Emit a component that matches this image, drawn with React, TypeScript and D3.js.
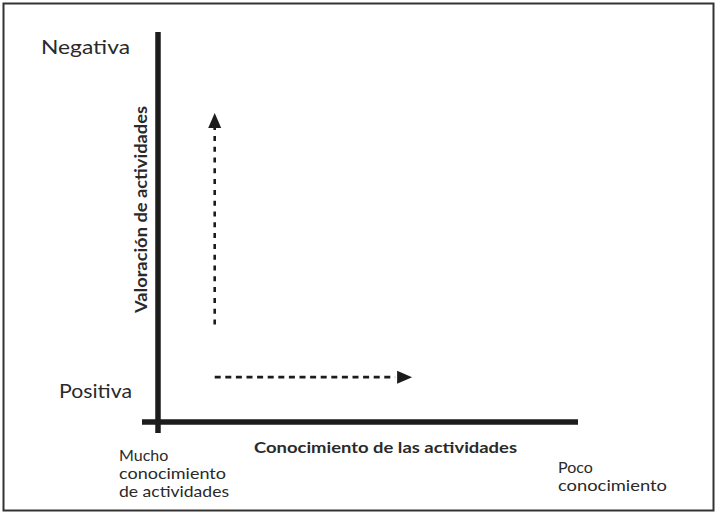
import React from "react";
import * as d3 from "d3";

// Conceptual axes (0 = start, 1 = end)
const xDomain = [0, 1]; // Mucho conocimiento -> Poco conocimiento
const yDomain = [0, 1]; // Positiva -> Negativa

const xAxisTitle = "Conocimiento de las actividades";
const yAxisTitle = "Valoración de actividades";
const yEndLabels = ["Positiva", "Negativa"];
const xStartLabel = ["Mucho", "conocimiento", "de actividades"];
const xEndLabel = ["Poco", "conocimiento"];

// Arrow segments in data units: [x0, y0, x1, y1]
const upArrow = [0.135, 0.25, 0.135, 0.792];
const rightArrow = [0.135, 0.115, 0.605, 0.115];

const W = 716;
const H = 513;

export default function App() {
  const x = d3.scaleLinear().domain(xDomain).range([158, 578]);
  const y = d3.scaleLinear().domain(yDomain).range([422, 32]);

  const ink = "#1c1c1c";
  const textCol = "#2a2a2a";
  const font = "Lato, 'Open Sans', sans-serif";

  const ux = x(upArrow[0]);
  const uy0 = y(upArrow[1]);
  const uy1 = y(upArrow[3]);
  const headLen = 15;
  const headHalf = 6.5;
  const rx0 = x(rightArrow[0]);
  const rx1 = x(rightArrow[2]);
  const ry = y(rightArrow[1]);

  const upHead = d3.path();
  upHead.moveTo(ux, uy1);
  upHead.lineTo(ux + headHalf, uy1 + headLen);
  upHead.lineTo(ux - headHalf, uy1 + headLen);
  upHead.closePath();

  const rightHead = d3.path();
  rightHead.moveTo(rx1, ry);
  rightHead.lineTo(rx1 - headLen, ry - headHalf);
  rightHead.lineTo(rx1 - headLen, ry + headHalf);
  rightHead.closePath();

  return (
    <svg
      width={W}
      height={H}
      style={{ position: "absolute", left: 0, top: 0, background: "#fff" }}
    >
      <rect x={3.5} y={3.5} width={710} height={507} fill="#fff" stroke="#333" strokeWidth={2} />

      {/* axes */}
      <line x1={x(0)} x2={x(0)} y1={y(1)} y2={y(0) + 11} stroke={ink} strokeWidth={5.5} />
      <line x1={x(0) - 16} x2={x(1)} y1={y(0)} y2={y(0)} stroke={ink} strokeWidth={5.5} />

      {/* up arrow */}
      <line
        x1={ux}
        x2={ux}
        y1={uy0}
        y2={uy1 + headLen}
        stroke={ink}
        strokeWidth={2.6}
        strokeDasharray="5,5.8"
      />
      <path d={upHead.toString()} fill={ink} />

      {/* right arrow */}
      <line
        x1={rx0}
        x2={rx1 - headLen - 2}
        y1={ry}
        y2={ry}
        stroke={ink}
        strokeWidth={2.6}
        strokeDasharray="6,4.6"
      />
      <path d={rightHead.toString()} fill={ink} />

      {/* y end labels */}
      <text x={41} y={54} fontFamily={font} fontSize={20} fill={textCol} textLength={89} lengthAdjust="spacingAndGlyphs">
        {yEndLabels[1]}
      </text>
      <text x={59} y={398} fontFamily={font} fontSize={20} fill={textCol} textLength={73} lengthAdjust="spacingAndGlyphs">
        {yEndLabels[0]}
      </text>

      {/* y axis title */}
      <text
        transform={`translate(147,${(106 + 313) / 2}) rotate(-90)`}
        textAnchor="middle"
        fontFamily={font}
        fontWeight="bold"
        fontSize={17}
        fill={textCol}
        textLength={207}
        lengthAdjust="spacingAndGlyphs"
      >
        {yAxisTitle}
      </text>

      {/* x axis title */}
      <text
        x={254}
        y={453}
        fontFamily={font}
        fontWeight="bold"
        fontSize={16}
        fill={textCol}
        textLength={263}
        lengthAdjust="spacingAndGlyphs"
      >
        {xAxisTitle}
      </text>

      {/* x start label */}
      {xStartLabel.map((t, i) => (
        <text
          key={t}
          x={119}
          y={461 + i * 18}
          fontFamily={font}
          fontSize={16}
          fill={textCol}
          textLength={i === 0 ? undefined : [0, 107, 110][i]}
          lengthAdjust="spacingAndGlyphs"
        >
          {t}
        </text>
      ))}

      {/* x end label */}
      {xEndLabel.map((t, i) => (
        <text
          key={t}
          x={558}
          y={473 + i * 18}
          fontFamily={font}
          fontSize={16}
          fill={textCol}
          textLength={i === 0 ? undefined : 109}
          lengthAdjust="spacingAndGlyphs"
        >
          {t}
        </text>
      ))}
    </svg>
  );
}
